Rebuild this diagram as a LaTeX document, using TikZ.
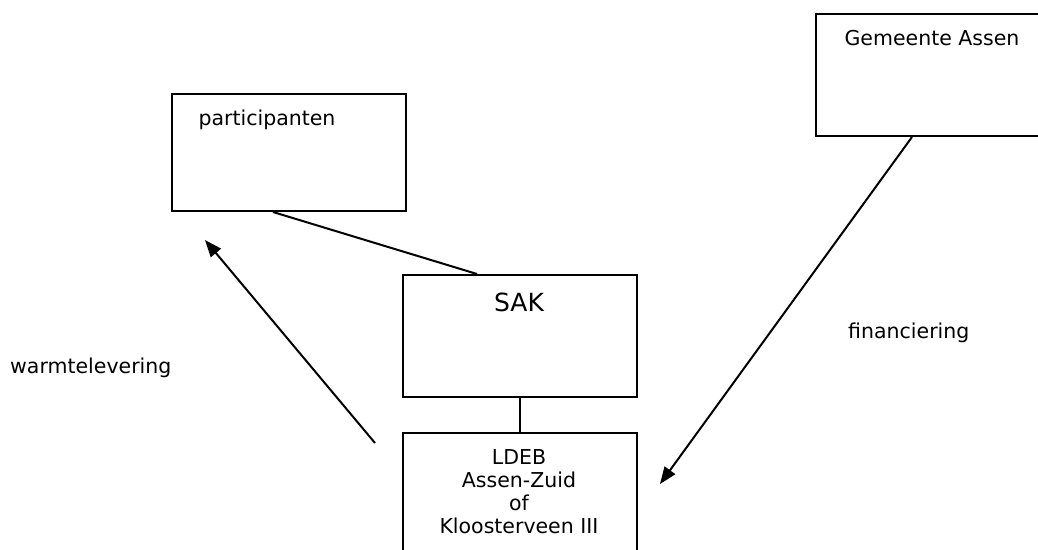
\documentclass[tikz,border=0pt]{standalone}
\usepackage{fontspec}
\setmainfont{DejaVu Sans}
\usetikzlibrary{arrows.meta,calc}
\begin{document}
\begin{tikzpicture}[x=1pt,y=-1pt,
  box/.style={draw,line width=2pt,rectangle,inner sep=0pt,anchor=north west,minimum width=234pt},
  lbl/.style={font=\fontsize{20.5}{23}\selectfont,inner sep=0pt},
  conn/.style={line width=2pt},
  arr/.style={line width=2pt,-{Triangle[length=17pt,width=13pt]}}]
\useasboundingbox (0,0) rectangle (1038,549);
\clip (0,0) rectangle (1038,549);
% boxes
\node[box,minimum height=117pt] (part) at (171,93) {};
\node[box,minimum height=122pt] (gem) at (815,13) {};
\node[box,minimum height=122pt] (sak) at (402,274) {};
\node[box,minimum height=130pt] (ldeb) at (402,432) {};
% texts
\node[lbl] (tpart) at (267,120) {participanten};
\node[lbl] (tgem) at (932,38) {Gemeente Assen};
\node[lbl,font=\fontsize{25}{28}\selectfont] (tsak) at (519,302) {SAK};
\node[lbl,align=center] (tldeb) at (519,492) {LDEB\\Assen-Zuid\\of\\Kloosterveen III};
\node[lbl,anchor=west] (twarm) at (10,368) {warmtelevering};
\node[lbl,anchor=west] (tfin) at (848,333) {financiering};
% connectors
\coordinate (pa) at ($(part.south west)+(102,0)$);
\coordinate (sa) at ($(sak.north west)+(75,0)$);
\draw[conn] (pa) -- (sa);
\draw[conn] (sak.south) -- (ldeb.north);
\coordinate (wt) at (375,443);
\coordinate (wh) at (205,240);
\draw[arr] (wt) -- (wh);
\coordinate (ga) at ($(gem.south west)+(97,0)$);
\coordinate (fh) at (660,484);
\draw[arr] (ga) -- (fh);
\end{tikzpicture}
\end{document}
